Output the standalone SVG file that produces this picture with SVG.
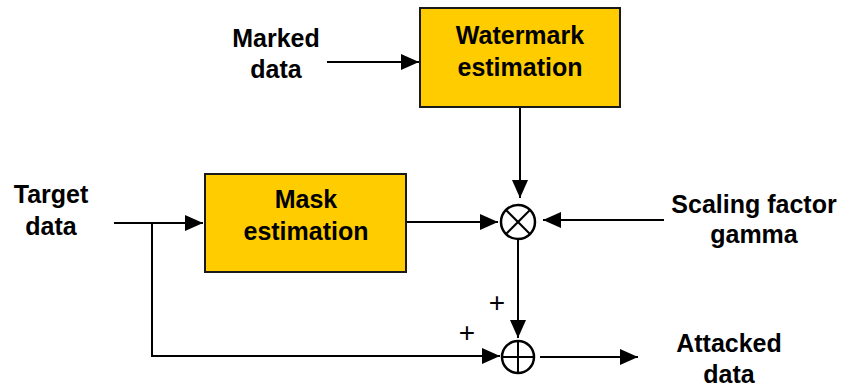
<svg xmlns="http://www.w3.org/2000/svg" width="843" height="389" viewBox="0 0 843 389">
<style>
.box{fill:#FFCC00;stroke:#1a1a1a;stroke-width:2}
.lbl{font-family:"Liberation Sans",Arial,sans-serif;font-weight:bold;font-size:25px;fill:#000}
.sign{font-family:"Liberation Sans",Arial,sans-serif;font-size:28px;fill:#000}
.ln{stroke:#000;stroke-width:2;fill:none}
.op{fill:#fff;stroke:#000;stroke-width:2.5}
</style>
<defs>
<marker id="ah" viewBox="0 0 18 16" refX="18" refY="8" markerWidth="18" markerHeight="16" markerUnits="userSpaceOnUse" orient="auto">
<path d="M0,0 L18,8 L0,16 Z" fill="#000"/>
</marker>
</defs>
<g id="connectors">
<line class="ln" x1="327" y1="62" x2="419" y2="62" marker-end="url(#ah)"/>
<line class="ln" x1="114" y1="223" x2="203" y2="223" marker-end="url(#ah)"/>
<polyline class="ln" points="152,223 152,356 500,356" marker-end="url(#ah)"/>
<line class="ln" x1="520" y1="107" x2="520" y2="198" marker-end="url(#ah)"/>
<line class="ln" x1="406" y1="222" x2="498" y2="222" marker-end="url(#ah)"/>
<line class="ln" x1="664" y1="220" x2="543" y2="220" marker-end="url(#ah)"/>
<line class="ln" x1="518" y1="240" x2="518" y2="338" marker-end="url(#ah)"/>
<line class="ln" x1="540" y1="357" x2="638" y2="357" marker-end="url(#ah)"/>
</g>
<g id="watermark">
<rect class="box" x="420" y="8" width="200" height="99"/>
<text class="lbl" x="520" y="44" text-anchor="middle">Watermark</text>
<text class="lbl" x="520" y="76" text-anchor="middle">estimation</text>
</g>
<g id="mask">
<rect class="box" x="205" y="174" width="201" height="98"/>
<text class="lbl" x="306" y="208" text-anchor="middle">Mask</text>
<text class="lbl" x="306" y="240" text-anchor="middle">estimation</text>
</g>
<g id="multiply">
<circle class="op" cx="518" cy="222" r="17"/>
<line class="ln" x1="506" y1="210" x2="530" y2="234"/>
<line class="ln" x1="530" y1="210" x2="506" y2="234"/>
</g>
<g id="add">
<circle class="op" cx="518" cy="357" r="16"/>
<line class="ln" x1="502" y1="357" x2="534" y2="357"/>
<line class="ln" x1="518" y1="341" x2="518" y2="373"/>
</g>
<g id="marked">
<text class="lbl" x="276" y="47" text-anchor="middle">Marked</text>
<text class="lbl" x="276" y="78" text-anchor="middle">data</text>
</g>
<g id="target">
<text class="lbl" x="51" y="203" text-anchor="middle">Target</text>
<text class="lbl" x="51" y="235" text-anchor="middle">data</text>
</g>
<g id="scaling">
<text class="lbl" x="754" y="213" text-anchor="middle">Scaling factor</text>
<text class="lbl" x="754" y="243" text-anchor="middle">gamma</text>
</g>
<g id="attacked">
<text class="lbl" x="729" y="352" text-anchor="middle">Attacked</text>
<text class="lbl" x="729" y="383" text-anchor="middle">data</text>
</g>
<g id="signs">
<text class="sign" x="497" y="312" text-anchor="middle">+</text>
<text class="sign" x="467" y="342" text-anchor="middle">+</text>
</g>
</svg>
